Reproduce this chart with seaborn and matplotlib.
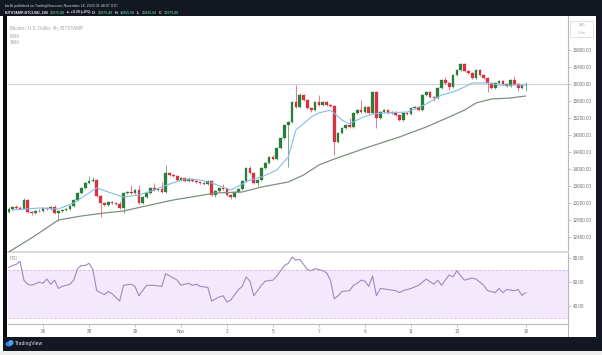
import numpy as np
import pandas as pd
import matplotlib
matplotlib.use("Agg")
import matplotlib.pyplot as plt
import seaborn as sns
from matplotlib.patches import Rectangle, Ellipse

# ---------------- data (BTCUSD 4h candles, Oct 24 12:00 -> Nov 16 00:00) ----------------
opens = [12990, 13060, 13110, 13080, 13070, 13270, 12990, 12970, 13010, 13000,
         13080, 13060, 13110, 12970, 13010, 13040, 13060, 13130, 13270, 13440,
         13550, 13670, 13720, 13740, 13370, 13200, 13150, 13220, 13200, 13180,
         13080, 13440, 13460, 13440, 13510, 13200, 13340, 13440, 13550, 13510,
         13530, 13460, 13910, 13860, 13840, 13740, 13790, 13720, 13770, 13720,
         13690, 13670, 13650, 13720, 13390, 13480, 13550, 13530, 13390, 13340,
         13460, 13530, 13720, 14020, 13910, 13670, 13740, 14020, 14140, 14280,
         14240, 14490, 14730, 15040, 15110, 15580, 15460, 15740, 15620, 15440,
         15390, 15580, 15510, 15580, 15510, 15480, 14640, 14850, 14970, 15040,
         14990, 15320, 15390, 15340, 15460, 15320, 15810, 15200, 15340, 15390,
         15320, 15340, 15270, 15150, 15320, 15290, 15440, 15460, 15390, 15740,
         15810, 15690, 15670, 15910, 16090, 16020, 15930, 16210, 16330, 16470,
         16310, 16260, 16140, 16330, 16210, 16140, 16020, 15910, 16020, 16070,
         16000, 15950, 16090, 16000, 15910, 15975.49]
closes = [13060, 13110, 13080, 13070, 13270, 12990, 12970, 13010, 13000, 13080,
          13060, 13110, 12970, 13010, 13040, 13060, 13130, 13270, 13440, 13550,
          13670, 13720, 13740, 13370, 13200, 13150, 13220, 13200, 13180, 13080,
          13440, 13460, 13440, 13510, 13200, 13340, 13440, 13550, 13510, 13530,
          13460, 13910, 13860, 13840, 13740, 13790, 13720, 13770, 13720, 13690,
          13670, 13650, 13720, 13390, 13480, 13550, 13530, 13390, 13340, 13460,
          13530, 13720, 14020, 13910, 13670, 13740, 14020, 14140, 14280, 14240,
          14490, 14730, 15040, 15110, 15580, 15460, 15740, 15620, 15440, 15390,
          15580, 15510, 15580, 15510, 15480, 14640, 14850, 14970, 15040, 14990,
          15320, 15390, 15340, 15460, 15320, 15810, 15200, 15340, 15390, 15320,
          15340, 15270, 15150, 15320, 15290, 15440, 15460, 15390, 15740, 15810,
          15690, 15670, 15910, 16090, 16020, 15930, 16210, 16330, 16470, 16310,
          16260, 16140, 16330, 16210, 16140, 16020, 15910, 16020, 16070, 16000,
          15950, 16090, 16000, 15910, 15975, 15975.88]
highs = [13100, 13140, 13150, 13120, 13310, 13290, 13020, 13040, 13050, 13110,
         13110, 13140, 13160, 13040, 13060, 13080, 13150, 13290, 13460, 13580,
         13700, 13830, 13800, 13770, 13390, 13230, 13250, 13250, 13230, 13240,
         13460, 13490, 13620, 13540, 13620, 13370, 13460, 13580, 13670, 13560,
         13690, 14090, 13940, 13880, 13860, 13820, 13810, 13800, 13790, 13740,
         13720, 13700, 13740, 13740, 13510, 13580, 13650, 13560, 13410, 13480,
         13560, 13740, 14050, 14060, 13930, 13770, 14050, 14170, 14310, 14320,
         14520, 14760, 15070, 15140, 15610, 15980, 15780, 15770, 15650, 15460,
         15600, 15740, 15610, 15600, 15530, 15510, 14880, 14990, 15060, 15200,
         15340, 15410, 15620, 15480, 15480, 15840, 15830, 15370, 15420, 15410,
         15370, 15360, 15290, 15340, 15340, 15460, 15490, 15480, 15770, 15840,
         15840, 15720, 15930, 16120, 16160, 16050, 16240, 16350, 16500, 16490,
         16330, 16280, 16350, 16350, 16230, 16160, 16050, 16050, 16100, 16090,
         16030, 16120, 16190, 16020, 15990, 16055.5]
lows = [12960, 13030, 13060, 13040, 13050, 12960, 12920, 12940, 12980, 12980,
        13040, 13040, 12940, 12780, 12990, 13010, 13040, 13110, 13250, 13410,
        13530, 13640, 13690, 13340, 12870, 13120, 13130, 13170, 13150, 13060,
        12960, 13410, 13410, 13410, 13180, 13180, 13320, 13410, 13480, 13480,
        13430, 13440, 13830, 13800, 13710, 13720, 13690, 13700, 13690, 13660,
        13640, 13620, 13620, 13360, 13340, 13460, 13500, 13360, 13290, 13320,
        13440, 13510, 13700, 13880, 13640, 13600, 13720, 14000, 14120, 14200,
        14210, 14470, 14700, 14050, 15080, 15430, 15430, 15600, 15400, 15350,
        15360, 15480, 15480, 15480, 15450, 14330, 14610, 14820, 14940, 14960,
        14960, 15290, 15320, 15320, 15290, 15300, 14970, 15170, 15320, 15290,
        15300, 15240, 15120, 15130, 15270, 15270, 15410, 15360, 15370, 15720,
        15670, 15600, 15650, 15880, 16000, 15860, 15910, 16190, 16300, 16280,
        16230, 16110, 16120, 16190, 16110, 15810, 15880, 15880, 16000, 15970,
        15930, 15930, 15980, 15835, 15880, 15835.5]

# short EMA (blue) read at sample candles
ema_idx = [1, 8, 13, 17, 23, 26, 30, 34, 38, 42, 46, 50, 53, 58, 63, 66, 70, 73, 75,
           79, 81, 84, 87, 89, 92, 95, 98, 104, 109, 113, 116, 119, 121, 125, 128, 135]
ema_val = [13035, 13082, 13059, 13200, 13553, 13459, 13341, 13388, 13506, 13647, 13765,
           13741, 13671, 13506, 13741, 13812, 13976, 14282, 14918, 15224, 15318, 15388,
           15153, 15059, 15200, 15294, 15318, 15341, 15529, 15741, 15812, 15929, 16024,
           16024, 15976, 15976]

# long SMA (grey-green) read at sample candles
sma_idx = [0, 6, 13, 19, 25, 30, 37, 43, 54, 61, 66, 73, 77, 81, 85, 94, 102, 109,
           115, 119, 122, 126, 131, 135]
sma_val = [12047, 12376, 12800, 12894, 12965, 13012, 13153, 13271, 13435, 13459, 13576,
           13694, 13859, 14094, 14235, 14518, 14753, 14988, 15224, 15388, 15553, 15647,
           15671, 15718]

# RSI read at sample candles
rsi_idx = [0, 1, 2, 3, 4, 5, 6, 8, 9, 10, 11, 12, 13, 14, 16, 17, 18, 19, 20, 21, 22,
           23, 25, 26, 27, 29, 30, 32, 33, 34, 36, 38, 40, 41, 43, 44, 45, 47, 48, 49,
           50, 52, 53, 55, 56, 57, 58, 60, 61, 62, 63, 64, 66, 67, 69, 70, 72, 73, 74,
           75, 76, 78, 79, 80, 82, 83, 84, 85, 86, 87, 89, 90, 91, 92, 93, 94, 95, 96,
           97, 99, 101, 102, 103, 105, 107, 109, 111, 112, 113, 115, 116, 117, 118,
           119, 121, 122, 124, 125, 126, 127, 128, 129, 130, 132, 133, 134, 135]
rsi_val = [72.2, 73.9, 74.8, 77.4, 61.7, 58.3, 57.4, 60.0, 59.1, 62.6, 58.3, 61.7, 54.8,
           56.5, 58.3, 61.7, 71.3, 73.9, 73.9, 75.7, 70.4, 53.0, 49.6, 52.2, 50.4, 44.3,
           57.4, 58.3, 56.5, 48.7, 57.4, 57.4, 56.5, 67.0, 63.5, 61.7, 57.4, 59.1, 57.4,
           58.3, 56.5, 55.7, 44.3, 47.8, 48.7, 43.5, 45.2, 53.9, 56.5, 64.4, 60.9, 48.7,
           57.4, 60.9, 61.7, 65.2, 73.9, 75.7, 80.9, 78.3, 79.1, 70.4, 69.6, 71.3, 69.6,
           67.8, 61.7, 46.1, 48.7, 52.2, 53.0, 57.4, 59.1, 61.7, 60.9, 56.5, 65.2, 48.7,
           54.8, 53.9, 53.0, 51.3, 53.0, 54.8, 57.4, 62.6, 58.3, 61.7, 57.4, 66.1, 64.4,
           69.6, 65.2, 61.7, 63.5, 62.6, 57.4, 53.0, 52.2, 51.3, 54.8, 51.3, 53.9, 53.0,
           53.9, 49.0, 51.3]

hline_level = 16000
price_ticks = [12400, 12800, 13200, 13600, 14000, 14400, 14800, 15200, 15600, 16000,
               16400, 16800]
rsi_ticks = [40, 60, 80]
date_pos = [9, 21, 33, 45, 57, 69, 81, 93, 105, 117, 135]
date_labels = ["26", "28", "30", "Nov", "3", "5", "7", "9", "11", "13", "16"]
header_parts = [("BITSTAMP:BTCUSD, 240", "w"), ("15975.88", "g"), ("\u25b2 +0.39 (+0%)", "w"),
                ("O:", "w"), ("15975.49", "g"), ("H:", "w"), ("16055.50", "g"),
                ("L:", "w"), ("15835.50", "g"), ("C:", "w"), ("15975.88", "g")]

# ---------------- figure ----------------
sns.set_theme(style="white")
plt.rcParams['font.family'] = ['Liberation Sans', 'DejaVu Sans']
W, H = 602, 355
fig = plt.figure(figsize=(W / 100, H / 100), dpi=100)
fig.patch.set_facecolor("white")


def box(x, y, w, h, color, z=5, **kw):
    fig.add_artist(Rectangle((x / W, 1 - (y + h) / H), w / W, h / H,
                             transform=fig.transFigure, facecolor=color,
                             edgecolor=kw.pop("ec", "none"), lw=kw.pop("lw", 0),
                             zorder=z, **kw))


def ftext(x, y, s, **kw):
    return fig.text(x / W, 1 - y / H, s, va="center", ha=kw.pop("ha", "left"), **kw)


ax = fig.add_axes([8 / W, 1 - 252 / H, 560 / W, 236 / H])
ax2 = fig.add_axes([8 / W, 1 - 324 / H, 560 / W, 71 / H], sharex=ax)

df = pd.DataFrame({"o": opens, "h": highs, "l": lows, "c": closes})
df["i"] = np.arange(len(df))
up = df[df.c >= df.o]
dn = df[df.c < df.o]
GREEN, RED = "#2b7d3c", "#d8313f"

ax.axhline(hline_level, color="#d4d4d4", lw=0.9, zorder=1)
for sub, col in ((up, GREEN), (dn, RED)):
    ax.vlines(sub.i, sub.l, sub.h, color=col, lw=0.55, zorder=2, alpha=0.8)
    ax.bar(sub.i, (sub.c - sub.o).abs().clip(lower=8), bottom=sub[["o", "c"]].min(axis=1),
           width=0.7, color=col, edgecolor=col, lw=0.2, zorder=3)

sns.lineplot(x=sma_idx, y=sma_val, ax=ax, color="#7f907f", lw=0.9, zorder=4)
sns.lineplot(x=ema_idx, y=ema_val, ax=ax, color="#86bce6", lw=0.8, zorder=4)

ax.set_xlim(-0.15, 146)
ax.set_ylim(12047, 17600)
ax.yaxis.tick_right()
ax.set_yticks(price_ticks)
ax.set_yticklabels([f"{v:.2f}" for v in price_ticks])
ax.tick_params(axis="y", right=True, left=False, length=2, width=0.4, color="#999999",
               labelsize=3.3, labelcolor="#6f6f6f", pad=1.2)
ax.tick_params(axis="x", bottom=False, labelbottom=False)
for s in ("top", "left"):
    ax.spines[s].set_visible(False)
ax.spines["right"].set_color("#b8b8b8")
ax.spines["right"].set_linewidth(0.8)
ax.spines["bottom"].set_color("#d6d6d6")
ax.spines["bottom"].set_linewidth(1.3)
ax.set_xlabel("")
ax.set_ylabel("")

# RSI pane
ax2.axhspan(30, 70, color="#f4e9fc", lw=0, zorder=0)
for lvl in (70, 30):
    ax2.axhline(lvl, color="#cdb9dc", lw=0.6, ls=(0, (3, 2)), zorder=1)
sns.lineplot(x=rsi_idx, y=rsi_val, ax=ax2, color="#a088bd", lw=0.8, zorder=3)
ax2.set_ylim(25.2, 84.3)
ax2.yaxis.tick_right()
ax2.set_yticks(rsi_ticks)
ax2.set_yticklabels([f"{v:.2f}" for v in rsi_ticks])
ax2.tick_params(axis="y", right=True, left=False, length=2, width=0.4, color="#999999",
                labelsize=3.3, labelcolor="#6f6f6f", pad=1.2)
ax2.set_xticks(date_pos)
ax2.set_xticklabels(date_labels)
ax2.tick_params(axis="x", bottom=True, length=2, width=0.4, color="#999999",
                labelsize=3.3, labelcolor="#6f6f6f", pad=1.5)
for s in ("top", "left"):
    ax2.spines[s].set_visible(False)
ax2.spines["right"].set_color("#b8b8b8")
ax2.spines["right"].set_linewidth(0.8)
ax2.spines["bottom"].set_color("#b8b8b8")
ax2.spines["bottom"].set_linewidth(0.8)
ax2.set_xlabel("")
ax2.set_ylabel("")

# right price-scale separator continues to the bottom band
box(567.6, 324, 0.9, 13, "#b8b8b8", z=3)

# ---------------- frame (TradingView snapshot chrome) ----------------
DARK = "#131722"
box(0, 0, W, 16, DARK)
box(3, 14, 4, 338, "#0b0d12")
box(596, 14, 6, 338, DARK)
box(3, 337, 596, 14, DARK)
box(0, 351, W, 4, "#eeeeee")

ftext(5, 5.5, "btcfifi published on TradingView.com, November 16, 2020 01:48:07 UTC",
      color="#d1d4dc", fontsize=2.5, zorder=6)

renderer = fig.canvas.get_renderer()
xcur = 5.0
for s, kind in header_parts:
    t = ftext(xcur, 12.5, s, color="#4caf80" if kind == "g" else "#e8e8e8",
              fontsize=2.6, fontweight="bold", zorder=6)
    xcur += t.get_window_extent(renderer).width + 1.6

ftext(10, 28, "Bitcoin / U.S. Dollar, 4h, BITSTAMP", color="#a0a0a0", fontsize=3.3, zorder=6)
ftext(10, 36, "EMA", color="#a0a0a0", fontsize=3.3, zorder=6)
ftext(10, 43, "SMA", color="#a0a0a0", fontsize=3.3, zorder=6)
ftext(10, 259, "RSI", color="#a0a0a0", fontsize=3.3, zorder=6)

# small currency box top right
box(570, 21, 23, 16, "white", z=6, ec="#d8d8d8", lw=0.5)
ftext(581.5, 25.0, "USD", color="#9a9a9a", fontsize=2.2, ha="center", zorder=7)
ftext(581.5, 32.5, "Tether", color="#b0b0b0", fontsize=1.9, ha="center", zorder=7)

# TradingView logo
fig.add_artist(Ellipse((9 / W, 1 - 344 / H), 7 / W, 5 / H, transform=fig.transFigure,
                       facecolor="#2e8ae6", lw=0, zorder=6))
fig.add_artist(Ellipse((11 / W, 1 - 342.5 / H), 5 / W, 5 / H, transform=fig.transFigure,
                       facecolor="#4aa3f0", lw=0, zorder=6))
ftext(15, 344, "TradingView", color="#e0e3eb", fontsize=3.6, zorder=7)

fig.savefig("out.png", dpi=100, facecolor=fig.get_facecolor())
